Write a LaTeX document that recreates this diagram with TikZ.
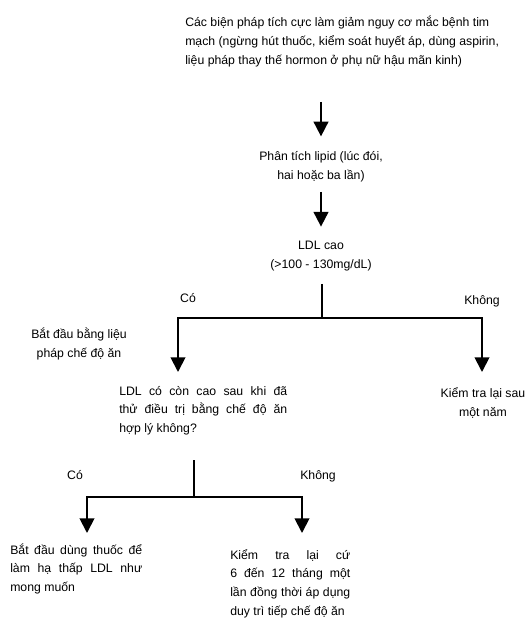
\documentclass[tikz,border=0pt]{standalone}
\usepackage{fontspec}
\setmainfont{Liberation Sans}
\usetikzlibrary{arrows.meta}

\begin{document}
\begin{tikzpicture}[
    x=0.75pt, y=-0.75pt,
    font=\fontsize{9.2}{14}\selectfont,
    every node/.style={inner sep=0pt},
    caption/.style={align=center},
    block/.style={align=justify, text width=#1},
    link/.style={line width=1.4pt, draw=black},
    flow/.style={link, -{Triangle[length=11pt,width=11pt]}}
]
    \useasboundingbox (0,0) rectangle (531,624);

    \node[align=left, anchor=base west, font=\fontsize{9.2}{14.6}\selectfont] (measures) at (185,65)
        {Các biện pháp tích cực làm giảm nguy cơ mắc bệnh tim\\
         mạch (ngừng hút thuốc, kiểm soát huyết áp, dùng aspirin,\\
         liệu pháp thay thế hormon ở phụ nữ hậu mãn kinh)};
    \node[caption, anchor=base] (lipid) at (321,179)
        {Phân tích lipid (lúc đói,\\hai hoặc ba lần)};
    \node[caption, anchor=base] (ldlhigh) at (321,268)
        {LDL cao\\(>100 - 130mg/dL)};

    \node[anchor=base] (yesA) at (188,302) {Có};
    \node[anchor=base] (noA) at (482,304) {Không};
    \node[caption, anchor=base] (diet) at (79,357)
        {Bắt đầu bằng liệu\\pháp chế độ ăn};

    \node[block=126pt, anchor=base west] (stillhigh) at (119,395)
        {LDL có còn cao sau khi đã\linebreak
         thử điều trị bằng chế độ ăn\linebreak
         hợp lý không?};
    \node[caption, anchor=base] (yearly) at (483,416)
        {Kiểm tra lại sau\\một năm};

    \node[anchor=base] (yesB) at (75,479) {Có};
    \node[anchor=base] (noB) at (318,479) {Không};

    \node[block=99pt, anchor=base west] (drugs) at (10,554)
        {Bắt đầu dùng thuốc để\linebreak
         làm hạ thấp LDL như\linebreak
         mong muốn};
    \node[block=90pt, anchor=base west] (recheck) at (230,559)
        {Kiểm tra lại cứ\linebreak
         6 đến 12 tháng một\linebreak
         lần đồng thời áp dụng\linebreak
         duy trì tiếp chế độ ăn};

    \coordinate (forkA) at (322,318);
    \coordinate (tipA1) at (178,372);
    \coordinate (tipA2) at (482,372);
    \coordinate (forkB) at (194,497);
    \coordinate (tipB1) at (87,533);
    \coordinate (tipB2) at (302,533);

    \draw[flow, shorten <=25.5pt, shorten >=11pt] (measures.south -| lipid.north) -- (lipid.north);
    \draw[flow, shorten <=7.5pt, shorten >=10.5pt] (lipid.south) -- (ldlhigh.north);
    \draw[link, shorten <=9.75pt] (ldlhigh.south -| forkA) -- (forkA);
    \draw[flow] (forkA) -| (tipA1);
    \draw[flow] (forkA) -| (tipA2);
    \draw[link, shorten <=19pt] (stillhigh.south -| forkB) -- (forkB);
    \draw[flow] (forkB) -| (tipB1);
    \draw[flow] (forkB) -| (tipB2);
\end{tikzpicture}
\end{document}
